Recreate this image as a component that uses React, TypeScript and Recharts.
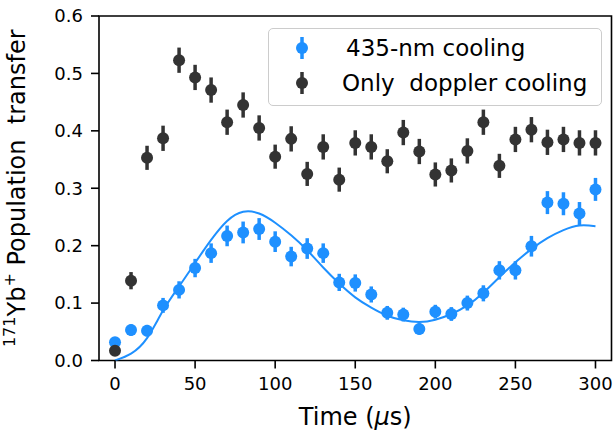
import {
  ComposedChart,
  Scatter,
  Line,
  XAxis,
  YAxis,
  ErrorBar,
  ReferenceArea,
  Legend,
} from "recharts";

// time axis, µs
const TIME = [
  0, 10, 20, 30, 40, 50, 60, 70, 80, 90, 100, 110, 120, 130, 140, 150, 160,
  170, 180, 190, 200, 210, 220, 230, 240, 250, 260, 270, 280, 290, 300,
];

// 435-nm cooling
const COOLED = [
  0.032, 0.053, 0.052, 0.096, 0.123, 0.161, 0.187, 0.217, 0.223, 0.229, 0.207,
  0.181, 0.195, 0.187, 0.136, 0.135, 0.115, 0.083, 0.08, 0.055, 0.085, 0.081,
  0.1, 0.117, 0.157, 0.157, 0.199, 0.275, 0.273, 0.256, 0.298,
];
const COOLED_ERR = [
  0.008, 0.01, 0.01, 0.013, 0.015, 0.016, 0.017, 0.018, 0.019, 0.019, 0.018,
  0.017, 0.018, 0.017, 0.015, 0.015, 0.014, 0.012, 0.012, 0.01, 0.012, 0.012,
  0.013, 0.014, 0.016, 0.016, 0.018, 0.02, 0.02, 0.02, 0.02,
];

// only doppler cooling
const DOPPLER = [
  0.017, 0.139, 0.353, 0.387, 0.523, 0.493, 0.471, 0.415, 0.445, 0.405, 0.355,
  0.386, 0.325, 0.372, 0.315, 0.379, 0.372, 0.347, 0.397, 0.364, 0.324, 0.331,
  0.365, 0.415, 0.339, 0.385, 0.402, 0.38, 0.385, 0.379, 0.379,
];
const DOPPLER_ERR = [
  0.006, 0.015, 0.021, 0.022, 0.022, 0.022, 0.022, 0.022, 0.022, 0.022, 0.021,
  0.022, 0.021, 0.022, 0.021, 0.022, 0.022, 0.021, 0.022, 0.022, 0.021, 0.021,
  0.022, 0.022, 0.021, 0.022, 0.022, 0.022, 0.022, 0.022, 0.022,
];

// fitted curve at the same times
const FIT = [
  0.0, 0.012, 0.039, 0.087, 0.129, 0.17, 0.21, 0.243, 0.259, 0.256, 0.24,
  0.218, 0.192, 0.162, 0.134, 0.11, 0.092, 0.078, 0.07, 0.067, 0.071, 0.081,
  0.096, 0.118, 0.145, 0.171, 0.194, 0.213, 0.227, 0.235, 0.234,
];

const X_TICKS = [0, 50, 100, 150, 200, 250, 300];
const Y_TICKS = [0, 0.1, 0.2, 0.3, 0.4, 0.5, 0.6];
const SERIES_NAMES = ["435-nm cooling", "Only  doppler cooling"];

const BLUE = "#1E90FF";
const DARK = "#333333";
const FONT = "'DejaVu Sans', sans-serif";

const data = TIME.map((t, i) => ({
  t,
  cooled: COOLED[i],
  cooledErr: COOLED_ERR[i],
  doppler: DOPPLER[i],
  dopplerErr: DOPPLER_ERR[i],
  fit: FIT[i],
}));

function LegendMarker({ color }: { color: string }) {
  return (
    <svg width={16} height={26} style={{ position: "absolute", left: 25, top: -13 }}>
      <line x1={8} x2={8} y1={2} y2={24} stroke={color} strokeWidth={3.5} />
      <circle cx={8} cy={13} r={6} fill={color} />
    </svg>
  );
}

function BoxLegend() {
  const colors = [BLUE, DARK];
  const textLeft = [77, 73];
  return (
    <div
      style={{
        position: "relative",
        width: 334,
        height: 78,
        boxSizing: "border-box",
        border: "1.5px solid #cccccc",
        borderRadius: 5,
        background: "rgba(255,255,255,0.8)",
        fontFamily: FONT,
        fontSize: 23,
        color: "#000",
      }}
    >
      {SERIES_NAMES.map((name, i) => (
        <div key={name} style={{ position: "absolute", left: 0, top: 19 + i * 35 }}>
          <LegendMarker color={colors[i]} />
          <span
            style={{
              position: "absolute",
              left: textLeft[i],
              top: -14,
              whiteSpace: "pre",
              lineHeight: "28px",
            }}
          >
            {name}
          </span>
        </div>
      ))}
    </div>
  );
}

function YLabel(props: any) {
  const vb = props.viewBox || { x: 0, y: 16, width: 99, height: 344 };
  const cx = 25;
  const cy = vb.y + vb.height / 2;
  return (
    <text
      transform={`translate(${cx},${cy}) rotate(-90)`}
      textAnchor="middle"
      fontSize={24}
      fill="#000"
      fontFamily={FONT}
      style={{ whiteSpace: "pre" }}
      dy={8}
    >
      <tspan fontSize={16} dy={-10}>171</tspan>
      <tspan dy={10}>Yb</tspan>
      <tspan fontSize={16} dy={-10}>+</tspan>
      <tspan dy={10}>{" Population  transfer"}</tspan>
    </text>
  );
}

function XLabel(props: any) {
  const vb = props.viewBox || { x: 99, y: 360, width: 512, height: 74 };
  return (
    <text
      x={vb.x + vb.width / 2}
      y={vb.y + 64}
      textAnchor="middle"
      fontSize={24}
      fill="#000"
      fontFamily={FONT}
    >
      Time (<tspan fontStyle="italic">μ</tspan>s)
    </text>
  );
}

const dot = (color: string) => (p: any) =>
  p.cx == null ? <g /> : <circle cx={p.cx} cy={p.cy} r={6} fill={color} />;

export default function App() {
  return (
    <div style={{ position: "absolute", left: 0, top: 0, width: 616, height: 434, background: "#fff" }}>
      <ComposedChart
        width={616}
        height={434}
        data={data}
        margin={{ top: 16, right: 4.5, left: 0, bottom: 0 }}
        style={{ fontFamily: FONT }}
      >
        <XAxis
          dataKey="t"
          type="number"
          domain={[-10, 310]}
          ticks={X_TICKS}
          allowDataOverflow
          height={73.5}
          axisLine={false}
          tickLine={{ stroke: "#000", strokeWidth: 1.6 }}
          tickSize={8}
          tickMargin={9}
          tick={{ fill: "#000", fontSize: 18, fontFamily: FONT }}
          label={{ content: XLabel }}
        />
        <YAxis
          type="number"
          domain={[0, 0.6]}
          ticks={Y_TICKS}
          allowDataOverflow
          width={99}
          axisLine={false}
          tickLine={{ stroke: "#000", strokeWidth: 1.6 }}
          tickSize={8}
          tickMargin={8}
          tickFormatter={(v: number) => v.toFixed(1)}
          tick={{ fill: "#000", fontSize: 18, fontFamily: FONT }}
          label={{ content: YLabel }}
        />
        <Line
          dataKey="fit"
          type="natural"
          stroke={BLUE}
          strokeWidth={2}
          dot={false}
          activeDot={false}
          isAnimationActive={false}
          legendType="none"
        />
        <Scatter
          name={SERIES_NAMES[0]}
          dataKey="cooled"
          fill={BLUE}
          shape={dot(BLUE)}
          isAnimationActive={false}
        >
          <ErrorBar dataKey="cooledErr" direction="y" width={0} stroke={BLUE} strokeWidth={3.5} />
        </Scatter>
        <Scatter
          name={SERIES_NAMES[1]}
          dataKey="doppler"
          fill={DARK}
          shape={dot(DARK)}
          isAnimationActive={false}
        >
          <ErrorBar dataKey="dopplerErr" direction="y" width={0} stroke={DARK} strokeWidth={3.5} />
        </Scatter>
        <ReferenceArea
          x1={-10}
          x2={310}
          y1={0}
          y2={0.6}
          fill="none"
          fillOpacity={0}
          stroke="#000"
          strokeWidth={1.6}
          ifOverflow="extendDomain"
        />
        <Legend
          layout="horizontal"
          verticalAlign="middle"
          align="center"
          wrapperStyle={{ left: 268, top: 28, width: 334, height: 78 }}
          content={<BoxLegend />}
        />
      </ComposedChart>
    </div>
  );
}
